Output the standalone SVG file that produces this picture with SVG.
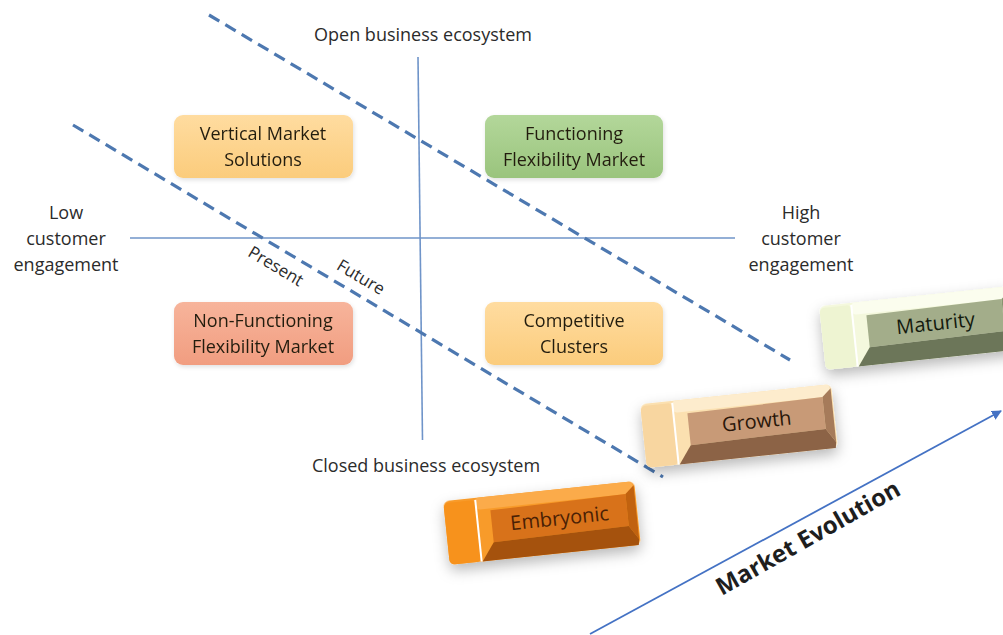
<svg xmlns="http://www.w3.org/2000/svg" width="1003" height="635" viewBox="0 0 1003 635">
<style>
.lbl{font-family:"Open Sans","Liberation Sans",sans-serif;font-size:18px;fill:#2b2b2b;text-anchor:middle}
.bt{font-family:"Open Sans","Liberation Sans",sans-serif;font-size:18px;fill:#241e10;text-anchor:middle}
.blk{font-family:"Open Sans","Liberation Sans",sans-serif;font-size:20px;text-anchor:middle}
.axis{stroke:#6f94c9;stroke-width:1.6;fill:none}
.dash{stroke:#4d78b0;stroke-width:3.2;stroke-dasharray:12 7;fill:none}
.sep{stroke:#ffffff;stroke-width:2}
</style>
<defs>
<filter id="sh" x="-20%" y="-30%" width="140%" height="170%">
<feDropShadow dx="0" dy="6" stdDeviation="7" flood-color="#000" flood-opacity="0.28"/>
</filter>
<filter id="bsh" x="-10%" y="-20%" width="120%" height="150%">
<feDropShadow dx="1" dy="2" stdDeviation="2" flood-color="#000" flood-opacity="0.12"/>
</filter>
<linearGradient id="gOr" x1="0" y1="0" x2="0" y2="1"><stop offset="0" stop-color="#ffdca0"/><stop offset="1" stop-color="#fbcc7c"/></linearGradient>
<linearGradient id="gGr" x1="0" y1="0" x2="0" y2="1"><stop offset="0" stop-color="#b3d79a"/><stop offset="1" stop-color="#9ac47d"/></linearGradient>
<linearGradient id="gSa" x1="0" y1="0" x2="0" y2="1"><stop offset="0" stop-color="#f7b49b"/><stop offset="1" stop-color="#f19d80"/></linearGradient>
<marker id="arr" viewBox="0 0 10 10" refX="9" refY="5" markerWidth="10" markerHeight="10" orient="auto" markerUnits="userSpaceOnUse">
<path d="M0,0 L10,5 L0,10 z" fill="#4472c4"/>
</marker>
</defs>
<rect width="1003" height="635" fill="#ffffff"/>

<g id="connectors">
<line class="axis" x1="418" y1="57" x2="422.5" y2="440"/>
<line class="axis" x1="130" y1="238" x2="735" y2="238"/>
<line class="dash" x1="209" y1="15" x2="790" y2="360"/>
<line class="dash" x1="73" y1="125" x2="663" y2="477"/>
<line x1="590" y1="634" x2="1001" y2="411" stroke="#4472c4" stroke-width="1.8" marker-end="url(#arr)"/>
</g>

<g id="axis-labels">
<text class="lbl" x="423" y="41">Open business ecosystem</text>
<text class="lbl" x="426" y="472">Closed business ecosystem</text>
<text class="lbl" x="66" y="219">Low</text>
<text class="lbl" x="66" y="245">customer</text>
<text class="lbl" x="66" y="271">engagement</text>
<text class="lbl" x="801" y="219">High</text>
<text class="lbl" x="801" y="245">customer</text>
<text class="lbl" x="801" y="271">engagement</text>
<text class="lbl" style="font-size:17px" transform="translate(276,266) rotate(30.8)" y="6">Present</text>
<text class="lbl" style="font-size:17px" transform="translate(361,277) rotate(30.8)" y="6">Future</text>
</g>

<g id="vertical-market-solutions" filter="url(#bsh)">
<rect x="174" y="115" width="179" height="63" rx="9" fill="url(#gOr)"/>
<text class="bt" x="263" y="140">Vertical Market</text>
<text class="bt" x="263" y="166">Solutions</text>
</g>
<g id="functioning-flexibility-market" filter="url(#bsh)">
<rect x="485" y="115" width="178" height="63" rx="9" fill="url(#gGr)"/>
<text class="bt" x="574" y="140">Functioning</text>
<text class="bt" x="574" y="166">Flexibility Market</text>
</g>
<g id="non-functioning-flexibility-market" filter="url(#bsh)">
<rect x="174" y="302" width="179" height="63" rx="9" fill="url(#gSa)"/>
<text class="bt" x="263" y="327">Non-Functioning</text>
<text class="bt" x="263" y="353">Flexibility Market</text>
</g>
<g id="competitive-clusters" filter="url(#bsh)">
<rect x="485" y="302" width="178" height="63" rx="9" fill="url(#gOr)"/>
<text class="bt" x="574" y="327">Competitive</text>
<text class="bt" x="574" y="353">Clusters</text>
</g>

<g id="maturity" transform="translate(918,328) rotate(-6)">
<g filter="url(#sh)">
<rect x="-96" y="-32" width="192" height="64" rx="6" fill="#f4f8dd"/>
</g>
<rect x="-64" y="-32" width="158" height="12" rx="4" fill="#fbfdee"/>
<rect x="-96" y="-30" width="32" height="62" rx="5" fill="#eef4d2"/>
<line class="sep" x1="-64" y1="-30" x2="-64" y2="32"/>
<polygon points="-50,-18 86,-20 86,12 -50,14" fill="#a3ad8a"/>
<polygon points="86,-20 95,-28 95,26 86,12" fill="#88936f"/>
<polygon points="-63,32 -50,14 86,12 95,26 94,32" fill="#6c7659"/>
<text class="blk" x="18" y="4" fill="#141a0e">Maturity</text>
</g>

<g id="growth" transform="translate(739,426) rotate(-6)">
<g filter="url(#sh)">
<rect x="-96" y="-32" width="192" height="64" rx="6" fill="#fbe0b0"/>
</g>
<rect x="-64" y="-32" width="158" height="12" rx="4" fill="#fdeccd"/>
<rect x="-96" y="-30" width="32" height="62" rx="5" fill="#f8d6a0"/>
<line class="sep" x1="-64" y1="-30" x2="-64" y2="32"/>
<polygon points="-50,-18 86,-20 86,12 -50,14" fill="#c89a77"/>
<polygon points="86,-20 95,-28 95,26 86,12" fill="#a67b5a"/>
<polygon points="-63,32 -50,14 86,12 95,26 94,32" fill="#8c6346"/>
<text class="blk" x="18" y="4" fill="#2a170a">Growth</text>
</g>

<g id="embryonic" transform="translate(542,523) rotate(-6)">
<g filter="url(#sh)">
<rect x="-96" y="-32" width="192" height="64" rx="6" fill="#f89b2c"/>
</g>
<rect x="-64" y="-32" width="158" height="12" rx="4" fill="#fbab4a"/>
<rect x="-96" y="-30" width="32" height="62" rx="5" fill="#f7921c"/>
<line class="sep" x1="-64" y1="-30" x2="-64" y2="32"/>
<polygon points="-50,-18 86,-20 86,12 -50,14" fill="#d8721a"/>
<polygon points="86,-20 95,-28 95,26 86,12" fill="#c1620f"/>
<polygon points="-63,32 -50,14 86,12 95,26 94,32" fill="#a5520d"/>
<text class="blk" x="18" y="4" fill="#4a1f05">Embryonic</text>
</g>

<text style="font-family:'Open Sans','Liberation Sans',sans-serif;font-size:24px;font-weight:bold;fill:#1e1e1e;text-anchor:middle" transform="translate(812,545) rotate(-29.5)">Market Evolution</text>
</svg>
